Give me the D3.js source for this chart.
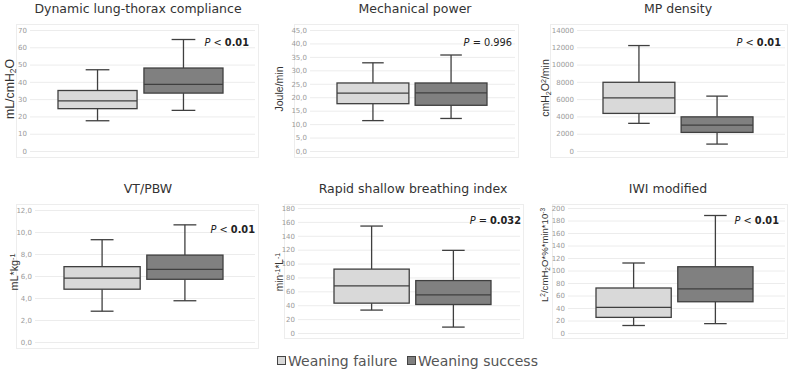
<!DOCTYPE html>
<html>
<head>
<meta charset="utf-8">
<script src="https://cdn.jsdelivr.net/npm/d3@7"></script>
<style>
  body { margin: 0; background: #fff; }
  svg { font-family: "DejaVu Sans", Verdana, sans-serif; }
</style>
</head>
<body>
<div id="chart"></div>
<script>
const width = 793;
const height = 371;

// ----- data ----- //
const groups = ["Weaning failure", "Weaning success"];
const groupColors = ["#d9d9d9", "#808080"];

const titles = [
  "Dynamic lung-thorax compliance",
  "Mechanical power",
  "MP density",
  "VT/PBW",
  "Rapid shallow breathing index",
  "IWI modified",
];

// [min, q1, median, q3, max] per panel
const failureStats = [
  [17.5, 24.5, 29, 35, 47],
  [11.3, 17.6, 21.5, 25.3, 32.8],
  [3200, 4350, 6150, 7950, 12200],
  [2.8, 4.8, 5.8, 6.85, 9.3],
  [33, 43, 68, 92, 154],
  [12, 25, 41, 72, 112],
];
const successStats = [
  [23.5, 33.5, 38.5, 48, 64.5],
  [12.1, 17.0, 21.6, 25.3, 35.7],
  [800, 2150, 3000, 3950, 6350],
  [3.75, 5.7, 6.6, 7.9, 10.65],
  [8.5, 41, 55, 75.5, 119],
  [15, 50, 70.5, 106, 188],
];

// y axis tick values
const yTicks = [
  [0, 10, 20, 30, 40, 50, 60, 70],
  [0, 5, 10, 15, 20, 25, 30, 35, 40, 45],
  [0, 2000, 4000, 6000, 8000, 10000, 12000, 14000],
  [0, 2, 4, 6, 8, 10, 12],
  [0, 20, 40, 60, 80, 100, 120, 140, 160, 180],
  [0, 20, 40, 60, 80, 100, 120, 140, 160, 180, 200],
];
const tickDecimals = [0, 1, 0, 1, 0, 0];

// p value labels: [operator, value, bold value?]
const pLabels = [
  ["<", "0.01", true],
  ["=", "0.996", false],
  ["<", "0.01", true],
  ["<", "0.01", true],
  ["=", "0.032", true],
  ["<", "0.01", true],
];

// y axis titles as pieces: [text, "sub" | "sup" | ""]
const yLabels = [
  [["mL/cmH", ""], ["2", "sub"], ["O", ""]],
  [["Joule/min", ""]],
  [["cmH", ""], ["2", "sub"], ["O", ""], ["2", "sup"], ["/min", ""]],
  [["mL*kg", ""], ["-1", "sup"]],
  [["min", ""], ["-1", "sup"], ["*L", ""], ["-1", "sup"]],
  [["L", ""], ["2", "sup"], ["/cmH", ""], ["2", "sub"], ["O*%*min*10", ""], ["-3", "sup"]],
];

// ----- layout of each panel ----- //
const layout = [
  { fx: [16, 258], fy: [24, 157], gx: [30, 255], y: [151, 30], bx: [58, 223], tx: 138, ty: 13, lx: 10, ly: 89, lf: 12.3, px: 249, py: 46 },
  { fx: [294, 518], fy: [24, 157], gx: [310, 515], y: [151, 30], bx: [337, 487], tx: 415, ty: 13, lx: 279, ly: 89, lf: 10.5, px: 512, py: 46 },
  { fx: [550, 787], fy: [24, 157], gx: [577, 785], y: [151, 30], bx: [603, 753], tx: 678, ty: 13, lx: 545, ly: 88, lf: 10.5, px: 781, py: 46 },
  { fx: [16, 258], fy: [204, 348], gx: [35, 255], y: [342, 210], bx: [64, 223], tx: 148, ty: 193, lx: 14, ly: 272, lf: 10.8, px: 255, py: 233 },
  { fx: [284, 523], fy: [204, 338], gx: [298, 520], y: [333, 208], bx: [334, 491], tx: 413, ty: 193, lx: 279, ly: 272, lf: 10.2, px: 521, py: 224 },
  { fx: [552, 787], fy: [204, 338], gx: [568, 785], y: [333, 208], bx: [596, 753], tx: 668, ty: 193, lx: 545, ly: 255, lf: 9.6, px: 779, py: 224 },
];

const svg = d3.select("#chart")
  .append("svg")
  .attr("width", width)
  .attr("height", height);

titles.forEach((title, i) => drawPanel(i));
drawLegend();

function drawPanel(i) {
  const L = layout[i];
  const g = svg.append("g");
  const ticks = yTicks[i];

  const y = d3.scaleLinear()
    .domain([0, ticks[ticks.length - 1]])
    .range(L.y);

  const x = d3.scaleBand()
    .domain(groups)
    .range(L.bx)
    .paddingInner(0.08)
    .paddingOuter(0);

  // faint plot area frame
  g.append("rect")
    .attr("x", L.fx[0] + 0.5)
    .attr("y", L.fy[0] + 0.5)
    .attr("width", L.fx[1] - L.fx[0])
    .attr("height", L.fy[1] - L.fy[0])
    .attr("fill", "none")
    .attr("stroke", "#ededed");

  // gridlines + tick labels
  const fmt = v => d3.format(`.${tickDecimals[i]}f`)(v).replace(".", ",");
  const axis = g.append("g")
    .attr("transform", `translate(${L.gx[0]},0)`)
    .call(d3.axisLeft(y)
      .tickValues(ticks)
      .tickFormat(fmt)
      .tickSize(-(L.gx[1] - L.gx[0]))
      .tickPadding(3));
  axis.select(".domain").remove();
  axis.selectAll("line").attr("stroke", "#ececec");
  axis.selectAll("text")
    .attr("fill", "#9a9a9a")
    .attr("font-size", 7)
    .attr("font-family", "DejaVu Sans, sans-serif");

  // title
  g.append("text")
    .attr("x", L.tx)
    .attr("y", L.ty)
    .attr("text-anchor", "middle")
    .attr("fill", "#333")
    .attr("font-size", 12.5)
    .text(titles[i]);

  // y axis title
  const yl = g.append("text")
    .attr("transform", `translate(${L.lx},${L.ly}) rotate(-90)`)
    .attr("text-anchor", "middle")
    .attr("dy", "0.35em")
    .attr("fill", "#333")
    .attr("font-family", "Liberation Sans, Arial, sans-serif")
    .attr("font-size", L.lf);
  yLabels[i].forEach(([t, kind]) => {
    const ts = yl.append("tspan").text(t);
    if (kind === "sub") ts.attr("font-size", L.lf * 0.68).attr("baseline-shift", "-25%");
    if (kind === "sup") ts.attr("font-size", L.lf * 0.68).attr("baseline-shift", "45%");
  });

  // boxes
  const stats = [failureStats[i], successStats[i]];
  const capW = x.bandwidth() * 0.3;
  stats.forEach((s, k) => {
    const [mn, q1, med, q3, mx] = s;
    const x0 = x(groups[k]);
    const cx = x0 + x.bandwidth() / 2;
    const bg = g.append("g")
      .attr("stroke", "#3f3f3f")
      .attr("stroke-width", 1.3);

    // whiskers
    bg.append("line")
      .attr("x1", cx).attr("x2", cx)
      .attr("y1", y(mx)).attr("y2", y(q3));
    bg.append("line")
      .attr("x1", cx).attr("x2", cx)
      .attr("y1", y(q1)).attr("y2", y(mn));
    [mn, mx].forEach(v => {
      bg.append("line")
        .attr("x1", cx - capW / 2).attr("x2", cx + capW / 2)
        .attr("y1", y(v)).attr("y2", y(v));
    });

    bg.append("rect")
      .attr("x", x0)
      .attr("y", y(q3))
      .attr("width", x.bandwidth())
      .attr("height", y(q1) - y(q3))
      .attr("fill", groupColors[k]);

    bg.append("line")
      .attr("x1", x0).attr("x2", x0 + x.bandwidth())
      .attr("y1", y(med)).attr("y2", y(med));
  });

  // p value
  const [op, val, bold] = pLabels[i];
  const pt = g.append("text")
    .attr("x", L.px)
    .attr("y", L.py)
    .attr("text-anchor", "end")
    .attr("fill", "#222")
    .attr("font-size", 9.8);
  pt.append("tspan").attr("font-style", "italic").text("P");
  pt.append("tspan").text(` ${op} `);
  pt.append("tspan").attr("font-weight", bold ? "bold" : "normal").text(val);
}

function drawLegend() {
  const lg = svg.append("g");
  const items = [
    { x: 277, label: groups[0], color: groupColors[0] },
    { x: 407, label: groups[1], color: groupColors[1] },
  ];
  items.forEach(d => {
    lg.append("rect")
      .attr("x", d.x + 0.5)
      .attr("y", 356.5)
      .attr("width", 8)
      .attr("height", 8)
      .attr("fill", d.color)
      .attr("stroke", "#444");
    lg.append("text")
      .attr("x", d.x + 11)
      .attr("y", 366)
      .attr("fill", "#555")
      .attr("font-size", 14)
      .text(d.label);
  });
}
</script>
</body>
</html>
